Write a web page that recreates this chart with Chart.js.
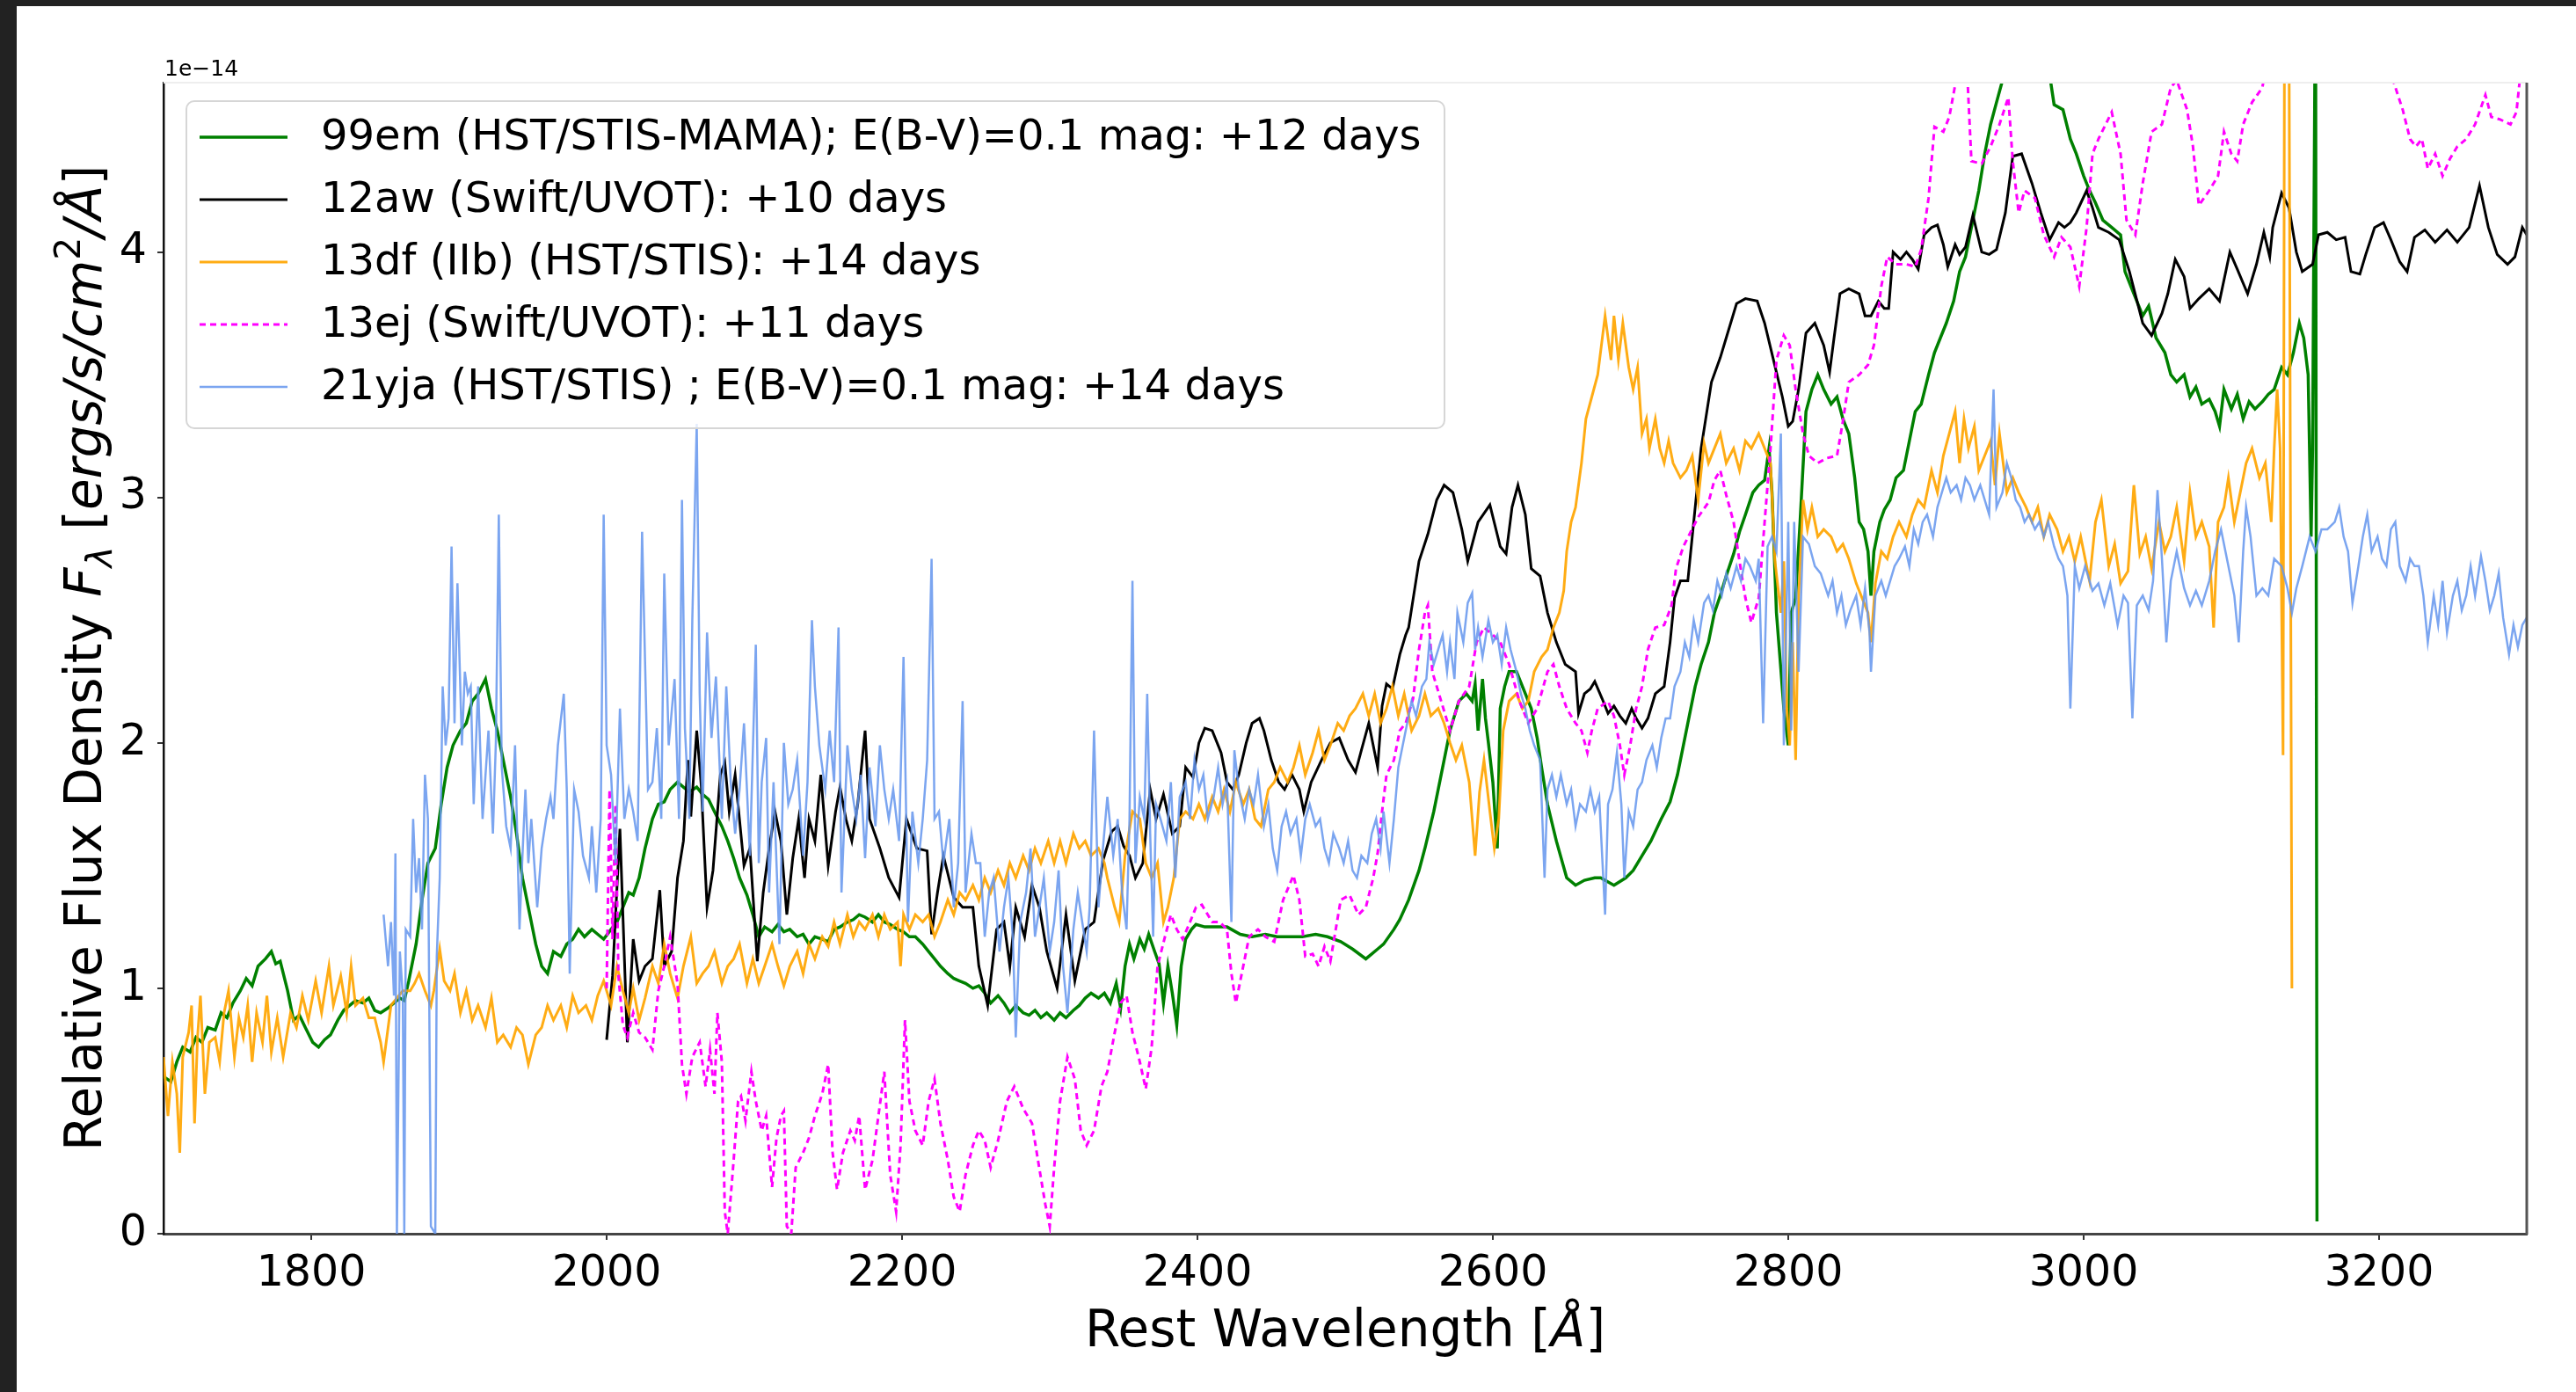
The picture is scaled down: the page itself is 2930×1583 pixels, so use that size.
<!DOCTYPE html>
<html>
<head>
<meta charset="utf-8">
<script src="https://cdn.jsdelivr.net/npm/chart.js@4.4.1/dist/chart.umd.min.js"></script>
<style>
  html, body { margin: 0; padding: 0; background: #222; overflow: hidden; }
  #wrap { position: absolute; left: 19px; top: 7px; width: 2911px; height: 1576px; background: #fff; }
  canvas { display: block; }
</style>
</head>
<body>
<div id="wrap"><canvas id="chart1" width="2911" height="1576"></canvas></div>
<script>
// [rest wavelength (A), flux (1e-14 ergs/s/cm2/A)]
const spec99em = [
  [1700,0.64],[1705,0.62],[1709,0.70],[1713,0.76],[1718,0.74],[1722,0.80],[1726,0.78],[1730,0.84],[1735,0.83],[1739,0.90],
  [1743,0.88],[1747,0.94],[1752,0.99],[1756,1.04],[1760,1.01],[1764,1.09],[1769,1.12],[1773,1.15],[1776,1.10],[1779,1.11],
  [1784,0.99],[1788,0.87],[1792,0.89],[1796,0.84],[1801,0.78],[1805,0.76],[1809,0.79],[1813,0.81],[1818,0.87],[1822,0.91],
  [1826,0.93],[1830,0.95],[1835,0.94],[1839,0.96],[1843,0.91],[1847,0.90],[1852,0.92],[1856,0.94],[1860,0.96],[1863,0.95],
  [1866,1.03],[1871,1.18],[1875,1.36],[1879,1.51],[1884,1.57],[1888,1.75],[1892,1.90],[1896,1.99],[1901,2.05],[1905,2.08],
  [1909,2.17],[1913,2.20],[1918,2.26],[1922,2.14],[1926,2.05],[1930,1.93],[1935,1.78],[1939,1.63],[1943,1.45],[1947,1.33],
  [1952,1.18],[1956,1.09],[1960,1.06],[1964,1.15],[1969,1.13],[1973,1.18],[1977,1.20],[1981,1.24],[1985,1.21],[1990,1.24],
  [1994,1.22],[1998,1.20],[2003,1.24],[2007,1.27],[2011,1.33],[2015,1.39],[2018,1.38],[2022,1.45],[2026,1.57],[2031,1.69],
  [2035,1.75],[2039,1.76],[2043,1.81],[2048,1.84],[2052,1.82],[2056,1.80],[2061,1.82],[2065,1.79],[2069,1.77],[2073,1.72],
  [2078,1.66],[2082,1.60],[2086,1.53],[2090,1.45],[2095,1.38],[2099,1.30],[2103,1.21],[2107,1.25],[2112,1.23],[2116,1.26],
  [2120,1.23],[2124,1.24],[2129,1.21],[2133,1.22],[2137,1.18],[2141,1.21],[2146,1.20],[2150,1.19],[2154,1.24],[2158,1.25],
  [2163,1.27],[2167,1.28],[2171,1.30],[2175,1.29],[2180,1.27],[2184,1.30],[2188,1.27],[2192,1.26],[2197,1.24],[2201,1.23],
  [2205,1.21],[2209,1.21],[2214,1.18],[2218,1.15],[2222,1.12],[2226,1.09],[2231,1.06],[2235,1.04],[2239,1.03],[2243,1.02],
  [2248,1.00],[2252,1.01],[2256,0.98],[2260,0.94],[2265,0.97],[2269,0.94],[2273,0.90],[2277,0.93],[2282,0.90],[2286,0.89],
  [2290,0.91],[2294,0.88],[2298,0.90],[2303,0.87],[2307,0.90],[2311,0.88],[2316,0.91],[2320,0.93],[2324,0.96],[2328,0.98],
  [2333,0.96],[2337,0.98],[2341,0.94],[2345,1.02],[2348,0.92],[2351,1.09],[2354,1.18],[2357,1.12],[2361,1.20],[2364,1.16],
  [2367,1.22],[2371,1.15],[2374,1.10],[2377,0.94],[2380,1.09],[2383,0.98],[2386,0.85],[2389,1.09],[2392,1.20],[2396,1.24],
  [2399,1.26],[2405,1.25],[2412,1.25],[2420,1.25],[2429,1.22],[2437,1.21],[2446,1.22],[2454,1.21],[2463,1.21],[2471,1.21],
  [2480,1.22],[2488,1.21],[2497,1.19],[2505,1.16],[2514,1.12],[2518,1.14],[2522,1.16],[2526,1.18],[2533,1.24],[2537,1.28],
  [2543,1.36],[2550,1.48],[2554,1.57],[2560,1.72],[2567,1.93],[2571,2.05],[2577,2.17],[2582,2.20],[2586,2.17],[2588,2.24],
  [2590,2.05],[2593,2.26],[2595,2.10],[2597,2.00],[2600,1.84],[2603,1.57],[2605,2.14],[2608,2.23],[2611,2.29],[2616,2.29],
  [2622,2.20],[2626,2.14],[2630,2.02],[2633,1.90],[2637,1.75],[2643,1.60],[2650,1.45],[2656,1.42],[2662,1.44],[2669,1.45],
  [2673,1.45],[2682,1.42],[2690,1.45],[2695,1.48],[2701,1.54],[2707,1.60],[2714,1.69],[2720,1.76],[2725,1.87],[2729,1.99],
  [2733,2.11],[2737,2.23],[2741,2.32],[2746,2.41],[2750,2.53],[2754,2.60],[2758,2.68],[2763,2.77],[2767,2.86],[2771,2.93],
  [2776,3.02],[2780,3.05],[2784,3.07],[2787,3.20],[2789,3.02],[2792,2.53],[2795,2.30],[2797,2.14],[2800,1.99],[2802,2.53],
  [2805,2.59],[2808,2.90],[2812,3.35],[2816,3.44],[2820,3.50],[2824,3.44],[2829,3.38],[2833,3.41],[2837,3.32],[2841,3.26],
  [2845,3.08],[2848,2.90],[2851,2.87],[2854,2.78],[2856,2.60],[2858,2.78],[2862,2.90],[2865,2.95],[2869,2.99],[2873,3.08],
  [2878,3.11],[2882,3.23],[2886,3.35],[2890,3.38],[2895,3.50],[2899,3.59],[2903,3.65],[2907,3.71],[2912,3.80],[2916,3.92],
  [2920,3.98],[2924,4.10],[2929,4.25],[2933,4.40],[2937,4.52],[2941,4.61],[2946,4.72],[2952,4.90],[2960,5.00],[2970,4.90],
  [2977,4.72],[2980,4.60],[2986,4.58],[2991,4.46],[2995,4.40],[3000,4.31],[3004,4.25],[3008,4.20],[3013,4.13],[3019,4.10],
  [3025,4.07],[3028,3.92],[3034,3.83],[3040,3.74],[3044,3.78],[3049,3.65],[3055,3.59],[3059,3.50],[3063,3.47],[3068,3.50],
  [3072,3.41],[3076,3.45],[3080,3.38],[3085,3.40],[3089,3.35],[3092,3.29],[3095,3.44],[3100,3.36],[3104,3.42],[3108,3.32],
  [3112,3.39],[3116,3.36],[3121,3.39],[3125,3.42],[3129,3.44],[3134,3.53],[3138,3.50],[3142,3.59],[3146,3.71],[3149,3.65],
  [3152,3.50],[3154,2.84],[3155,3.20],[3157,5.20],[3158,0.05]
];
const spec12aw = [
  [2000,0.79],[2004,1.05],[2009,1.65],[2014,0.78],[2018,1.20],[2022,1.03],[2026,1.09],[2031,1.12],[2036,1.40],[2039,1.09],
  [2044,1.15],[2048,1.45],[2052,1.60],[2055,1.93],[2057,1.70],[2061,2.05],[2064,1.83],[2068,1.33],[2072,1.48],[2077,1.87],
  [2080,1.92],[2083,1.72],[2087,1.87],[2093,1.50],[2097,1.57],[2102,1.11],[2106,1.39],[2110,1.57],[2114,1.72],[2118,1.60],
  [2122,1.30],[2126,1.53],[2130,1.69],[2134,1.45],[2137,1.69],[2141,1.60],[2145,1.87],[2150,1.50],[2155,1.72],[2158,1.82],
  [2162,1.69],[2166,1.60],[2170,1.75],[2175,2.05],[2178,1.69],[2185,1.57],[2191,1.45],[2198,1.37],[2203,1.69],[2210,1.57],
  [2217,1.56],[2220,1.22],[2224,1.39],[2228,1.54],[2235,1.37],[2241,1.33],[2248,1.33],[2252,1.09],[2258,0.93],[2264,1.24],
  [2269,1.27],[2273,1.09],[2277,1.33],[2283,1.21],[2288,1.42],[2293,1.33],[2298,1.15],[2305,1.00],[2311,1.30],[2317,1.03],
  [2324,1.24],[2330,1.27],[2336,1.52],[2342,1.64],[2346,1.66],[2350,1.58],[2354,1.54],[2358,1.45],[2363,1.51],[2368,1.81],
  [2372,1.69],[2377,1.79],[2383,1.63],[2388,1.66],[2392,1.90],[2397,1.86],[2401,2.00],[2405,2.06],[2410,2.05],[2416,1.96],
  [2420,1.84],[2424,1.81],[2428,1.87],[2433,2.00],[2437,2.08],[2442,2.10],[2445,2.05],[2450,1.93],[2455,1.84],[2459,1.81],
  [2464,1.87],[2469,1.81],[2472,1.72],[2477,1.84],[2484,1.93],[2490,2.00],[2496,2.02],[2502,1.93],[2507,1.88],[2511,1.97],
  [2516,2.08],[2520,1.96],[2522,1.90],[2525,2.15],[2528,2.24],[2532,2.22],[2537,2.36],[2541,2.44],[2543,2.47],[2550,2.74],
  [2556,2.85],[2562,2.99],[2567,3.05],[2573,3.02],[2579,2.87],[2583,2.74],[2590,2.90],[2598,2.97],[2605,2.80],[2609,2.77],
  [2613,2.96],[2617,3.05],[2622,2.93],[2626,2.71],[2632,2.68],[2637,2.53],[2643,2.41],[2649,2.32],[2656,2.29],[2658,2.12],
  [2662,2.20],[2666,2.22],[2669,2.25],[2674,2.18],[2678,2.12],[2682,2.15],[2686,2.11],[2690,2.08],[2694,2.14],[2697,2.10],
  [2701,2.06],[2705,2.10],[2710,2.20],[2716,2.23],[2720,2.41],[2723,2.59],[2727,2.66],[2732,2.66],[2735,2.84],[2741,3.20],
  [2748,3.47],[2754,3.57],[2758,3.65],[2765,3.79],[2771,3.81],[2779,3.80],[2784,3.71],[2790,3.56],[2796,3.41],[2800,3.29],
  [2803,3.31],[2807,3.44],[2812,3.67],[2818,3.71],[2824,3.62],[2828,3.51],[2831,3.65],[2835,3.83],[2841,3.85],[2848,3.83],
  [2852,3.74],[2856,3.74],[2861,3.80],[2865,3.77],[2868,3.77],[2871,4.00],[2876,3.97],[2880,4.00],[2884,3.97],[2888,3.93],
  [2892,4.07],[2897,4.10],[2901,4.11],[2905,4.03],[2908,3.94],[2913,4.03],[2916,3.99],[2920,4.02],[2925,4.15],[2931,4.00],
  [2936,3.99],[2941,4.01],[2947,4.16],[2952,4.39],[2958,4.40],[2965,4.28],[2971,4.16],[2977,4.05],[2983,4.12],[2987,4.10],
  [2991,4.12],[2995,4.16],[3002,4.25],[3006,4.18],[3010,4.10],[3017,4.08],[3024,4.05],[3031,3.92],[3040,3.71],[3046,3.66],
  [3053,3.75],[3057,3.83],[3062,3.97],[3068,3.90],[3072,3.77],[3078,3.81],[3085,3.85],[3092,3.80],[3099,4.00],[3104,3.93],
  [3111,3.83],[3117,3.95],[3122,4.08],[3126,3.98],[3128,4.10],[3134,4.24],[3139,4.18],[3144,4.00],[3148,3.92],[3155,3.95],
  [3159,4.07],[3165,4.08],[3171,4.05],[3177,4.06],[3181,3.92],[3187,3.91],[3191,3.99],[3197,4.10],[3203,4.12],[3208,4.05],
  [3214,3.96],[3219,3.92],[3224,4.06],[3231,4.09],[3238,4.04],[3246,4.09],[3253,4.04],[3261,4.10],[3268,4.27],[3274,4.10],
  [3280,3.99],[3287,3.95],[3292,3.98],[3297,4.10],[3300,4.07]
];
const spec13df = [
  [1700,0.72],[1703,0.48],[1706,0.70],[1709,0.57],[1711,0.33],[1713,0.72],[1717,0.82],[1719,0.93],[1721,0.45],[1723,0.80],
  [1725,0.97],[1728,0.57],[1731,0.78],[1735,0.80],[1738,0.70],[1741,0.90],[1744,0.99],[1748,0.72],[1751,0.88],[1754,0.80],
  [1757,0.93],[1760,0.70],[1763,0.90],[1767,0.78],[1770,0.97],[1773,0.74],[1777,0.88],[1781,0.72],[1786,0.90],[1790,0.84],
  [1794,0.97],[1798,0.87],[1803,1.03],[1807,0.90],[1812,1.09],[1815,0.93],[1820,1.05],[1824,0.90],[1827,1.09],[1830,0.93],
  [1835,0.96],[1839,0.88],[1843,0.88],[1847,0.78],[1849,0.70],[1854,0.93],[1858,0.96],[1862,0.99],[1867,0.99],[1870,1.02],
  [1873,1.06],[1877,0.99],[1881,0.93],[1883,0.99],[1887,1.16],[1890,1.03],[1894,0.99],[1897,1.06],[1901,0.90],[1905,0.99],
  [1909,0.87],[1913,0.93],[1918,0.84],[1922,0.96],[1926,0.78],[1930,0.81],[1935,0.76],[1939,0.84],[1943,0.81],[1947,0.69],
  [1952,0.81],[1956,0.84],[1960,0.93],[1964,0.87],[1969,0.93],[1973,0.84],[1977,0.97],[1981,0.90],[1986,0.93],[1990,0.87],
  [1994,0.97],[1998,1.03],[2003,0.93],[2007,1.09],[2011,0.99],[2015,0.90],[2018,1.00],[2022,0.87],[2026,0.96],[2031,1.09],
  [2035,1.02],[2039,1.18],[2043,1.06],[2048,0.96],[2052,1.09],[2057,1.21],[2061,1.02],[2065,1.06],[2069,1.09],[2073,1.15],
  [2078,1.02],[2082,1.09],[2086,1.12],[2090,1.18],[2095,1.02],[2099,1.12],[2103,1.02],[2107,1.09],[2112,1.18],[2116,1.09],
  [2120,1.01],[2124,1.09],[2129,1.15],[2133,1.06],[2137,1.18],[2141,1.12],[2146,1.21],[2150,1.17],[2154,1.27],[2158,1.18],
  [2163,1.30],[2167,1.21],[2171,1.27],[2175,1.24],[2180,1.30],[2184,1.21],[2188,1.30],[2192,1.24],[2197,1.27],[2199,1.09],
  [2201,1.30],[2205,1.24],[2209,1.30],[2214,1.27],[2218,1.30],[2222,1.21],[2226,1.27],[2231,1.36],[2235,1.30],[2239,1.39],
  [2243,1.36],[2248,1.42],[2252,1.36],[2256,1.45],[2260,1.39],[2265,1.48],[2269,1.42],[2273,1.51],[2277,1.45],[2282,1.54],
  [2286,1.48],[2290,1.57],[2294,1.51],[2299,1.60],[2303,1.51],[2307,1.60],[2311,1.51],[2316,1.63],[2320,1.57],[2324,1.60],
  [2328,1.54],[2333,1.57],[2337,1.51],[2339,1.45],[2344,1.33],[2347,1.27],[2351,1.54],[2356,1.72],[2361,1.69],[2365,1.51],
  [2369,1.45],[2373,1.51],[2377,1.27],[2380,1.33],[2384,1.45],[2388,1.69],[2392,1.72],[2397,1.69],[2401,1.75],[2405,1.69],
  [2410,1.78],[2414,1.72],[2418,1.81],[2422,1.72],[2426,1.84],[2431,1.75],[2435,1.81],[2439,1.69],[2443,1.66],[2448,1.81],
  [2452,1.84],[2456,1.90],[2461,1.84],[2465,1.90],[2469,1.99],[2473,1.87],[2478,1.96],[2482,2.05],[2486,1.93],[2490,1.99],
  [2495,2.08],[2499,2.05],[2503,2.11],[2507,2.14],[2512,2.20],[2516,2.11],[2520,2.20],[2524,2.08],[2528,2.14],[2532,2.23],
  [2536,2.11],[2540,2.20],[2545,2.05],[2550,2.11],[2554,2.20],[2558,2.11],[2563,2.14],[2567,2.08],[2571,2.00],[2575,1.93],
  [2579,1.99],[2584,1.84],[2588,1.54],[2591,1.80],[2594,1.93],[2598,1.72],[2601,1.57],[2604,1.69],[2607,2.05],[2611,2.17],
  [2616,2.20],[2620,2.14],[2624,2.17],[2628,2.29],[2633,2.35],[2637,2.38],[2641,2.47],[2645,2.53],[2648,2.62],[2650,2.78],
  [2653,2.90],[2656,2.96],[2660,3.14],[2663,3.32],[2667,3.41],[2671,3.50],[2676,3.74],[2680,3.56],[2682,3.74],[2685,3.56],
  [2688,3.71],[2692,3.53],[2695,3.44],[2698,3.53],[2701,3.26],[2704,3.32],[2706,3.20],[2710,3.32],[2713,3.20],[2716,3.14],
  [2719,3.23],[2722,3.14],[2727,3.08],[2731,3.11],[2735,3.17],[2739,2.99],[2743,3.22],[2746,3.14],[2750,3.20],[2754,3.26],
  [2758,3.14],[2763,3.20],[2767,3.11],[2771,3.23],[2775,3.20],[2780,3.26],[2784,3.20],[2788,3.14],[2791,2.74],[2795,2.53],
  [2797,2.74],[2799,2.14],[2801,1.99],[2803,2.41],[2805,1.93],[2807,2.59],[2810,2.99],[2813,2.87],[2816,2.96],[2820,2.84],
  [2824,2.87],[2829,2.84],[2833,2.78],[2837,2.81],[2841,2.75],[2846,2.65],[2850,2.59],[2854,2.53],[2856,2.41],[2859,2.65],
  [2863,2.78],[2867,2.75],[2871,2.84],[2875,2.90],[2880,2.84],[2884,2.93],[2888,2.99],[2892,2.96],[2897,3.11],[2901,3.02],
  [2905,3.17],[2909,3.26],[2913,3.35],[2916,3.14],[2919,3.32],[2922,3.20],[2926,3.29],[2929,3.11],[2933,3.17],[2937,3.23],
  [2940,3.05],[2943,3.26],[2948,3.02],[2952,3.08],[2956,3.02],[2961,2.96],[2965,2.90],[2969,2.96],[2973,2.84],[2977,2.93],
  [2982,2.87],[2986,2.78],[2990,2.84],[2994,2.74],[2998,2.84],[3000,2.78],[3004,2.66],[3008,2.90],[3012,2.99],[3017,2.72],
  [3021,2.81],[3025,2.65],[3030,2.70],[3034,3.05],[3038,2.77],[3042,2.84],[3046,2.71],[3051,2.90],[3055,2.78],[3059,2.84],
  [3063,2.96],[3068,2.74],[3072,3.02],[3076,2.84],[3080,2.90],[3085,2.80],[3088,2.47],[3091,2.90],[3095,2.96],[3098,3.08],
  [3102,2.90],[3106,3.02],[3110,3.14],[3114,3.20],[3119,3.08],[3123,3.14],[3125,3.02],[3127,2.90],[3129,3.20],[3131,3.44],
  [3133,3.20],[3135,1.95],[3136,5.00],[3139,5.00],[3141,1.00]
];
const spec13ej = [
  [2000,1.00],[2002,1.81],[2004,1.20],[2006,1.75],[2008,1.05],[2011,0.85],[2014,0.80],[2018,0.90],[2022,0.82],[2026,0.80],
  [2031,0.75],[2035,0.99],[2039,1.09],[2043,1.21],[2048,1.02],[2051,0.69],[2054,0.57],[2058,0.72],[2063,0.78],[2067,0.60],
  [2070,0.75],[2073,0.57],[2075,0.90],[2078,0.70],[2080,0.09],[2082,0.00],[2086,0.30],[2089,0.54],[2091,0.56],[2094,0.46],
  [2098,0.66],[2101,0.54],[2105,0.42],[2108,0.48],[2112,0.19],[2115,0.39],[2118,0.48],[2120,0.50],[2122,0.03],[2125,0.00],
  [2128,0.27],[2133,0.33],[2137,0.39],[2141,0.48],[2146,0.57],[2150,0.69],[2153,0.33],[2156,0.18],[2160,0.33],[2165,0.42],
  [2168,0.38],[2171,0.48],[2175,0.18],[2180,0.30],[2184,0.48],[2188,0.66],[2192,0.24],[2196,0.09],[2199,0.36],[2202,0.87],
  [2205,0.54],[2209,0.42],[2214,0.36],[2218,0.54],[2222,0.63],[2226,0.45],[2231,0.30],[2235,0.15],[2239,0.09],[2243,0.24],
  [2248,0.36],[2252,0.42],[2256,0.38],[2260,0.27],[2265,0.38],[2271,0.54],[2276,0.60],[2282,0.51],[2288,0.45],[2292,0.30],
  [2297,0.12],[2300,0.03],[2303,0.27],[2307,0.54],[2312,0.72],[2317,0.63],[2321,0.42],[2325,0.36],[2330,0.42],[2335,0.60],
  [2339,0.66],[2344,0.82],[2348,0.94],[2352,0.97],[2356,0.82],[2361,0.70],[2365,0.59],[2369,0.76],[2373,1.09],[2378,1.21],
  [2382,1.30],[2386,1.24],[2390,1.20],[2395,1.27],[2399,1.33],[2403,1.34],[2410,1.27],[2415,1.27],[2420,1.24],[2423,1.06],
  [2426,0.94],[2431,1.09],[2435,1.21],[2441,1.24],[2446,1.21],[2452,1.19],[2458,1.36],[2465,1.46],[2469,1.36],[2473,1.13],
  [2478,1.14],[2482,1.09],[2486,1.17],[2490,1.11],[2497,1.36],[2503,1.38],[2509,1.30],[2514,1.33],[2519,1.45],[2522,1.55],
  [2525,1.72],[2528,1.87],[2533,1.93],[2537,2.05],[2541,2.08],[2546,2.18],[2550,2.38],[2554,2.53],[2556,2.56],[2559,2.29],
  [2565,2.17],[2571,2.05],[2577,2.17],[2584,2.23],[2589,2.41],[2594,2.47],[2600,2.44],[2605,2.41],[2611,2.32],[2618,2.17],
  [2624,2.08],[2630,2.14],[2637,2.29],[2641,2.32],[2645,2.23],[2650,2.14],[2656,2.08],[2660,2.05],[2664,1.96],[2667,2.05],
  [2671,2.14],[2678,2.17],[2682,2.11],[2686,1.99],[2689,1.87],[2693,1.99],[2697,2.14],[2701,2.23],[2705,2.38],[2710,2.47],
  [2716,2.48],[2721,2.56],[2724,2.71],[2729,2.80],[2734,2.86],[2739,2.92],[2746,2.98],[2750,3.07],[2754,3.11],[2758,3.01],
  [2763,2.90],[2767,2.74],[2771,2.59],[2775,2.49],[2780,2.59],[2784,2.90],[2788,3.20],[2792,3.56],[2797,3.66],[2801,3.62],
  [2805,3.44],[2810,3.26],[2814,3.17],[2820,3.14],[2826,3.16],[2833,3.17],[2837,3.31],[2841,3.47],[2848,3.50],[2854,3.54],
  [2858,3.62],[2863,3.86],[2867,3.98],[2873,3.95],[2880,3.95],[2886,3.94],[2890,4.01],[2895,4.22],[2899,4.51],[2905,4.49],
  [2909,4.55],[2913,4.68],[2917,4.85],[2921,4.75],[2924,4.37],[2931,4.36],[2937,4.43],[2943,4.52],[2949,4.63],[2952,4.37],
  [2956,4.16],[2960,4.25],[2967,4.22],[2973,4.07],[2980,3.98],[2985,4.06],[2991,4.02],[2997,3.86],[3002,4.10],[3006,4.40],
  [3010,4.46],[3019,4.57],[3025,4.40],[3029,4.13],[3035,4.07],[3040,4.28],[3046,4.49],[3053,4.52],[3059,4.67],[3063,4.70],
  [3070,4.58],[3074,4.43],[3078,4.19],[3085,4.25],[3091,4.31],[3095,4.49],[3100,4.40],[3104,4.37],[3108,4.52],[3114,4.61],
  [3121,4.67],[3126,4.85],[3135,5.00],[3150,4.95],[3165,5.05],[3180,4.95],[3195,5.00],[3205,4.80],[3210,4.69],[3216,4.58],
  [3221,4.46],[3225,4.43],[3229,4.46],[3233,4.34],[3238,4.40],[3243,4.31],[3248,4.38],[3253,4.43],[3259,4.46],[3265,4.52],
  [3272,4.64],[3276,4.55],[3282,4.54],[3289,4.52],[3293,4.57],[3297,4.80],[3300,4.90]
];
const spec21yja = [
  [1849,1.30],[1852,1.09],[1854,1.27],[1856,0.97],[1857,1.55],[1858,0.00],[1860,1.15],[1862,0.97],[1863,0.00],[1864,1.24],
  [1867,1.21],[1869,1.69],[1871,1.39],[1873,1.53],[1875,1.24],[1877,1.87],[1879,1.69],[1881,0.03],[1884,0.00],[1885,1.13],
  [1887,1.45],[1889,2.23],[1891,1.99],[1893,2.10],[1895,2.80],[1897,2.08],[1899,2.65],[1902,1.99],[1904,2.29],[1906,2.20],
  [1908,2.23],[1910,1.75],[1913,2.23],[1916,1.69],[1920,2.05],[1923,1.63],[1925,2.00],[1927,2.93],[1929,1.90],[1932,1.66],
  [1935,1.57],[1938,1.99],[1941,1.24],[1943,1.54],[1945,1.81],[1947,1.51],[1949,1.69],[1953,1.33],[1956,1.57],[1959,1.69],
  [1962,1.78],[1964,1.69],[1967,1.99],[1971,2.20],[1973,1.81],[1975,1.06],[1978,1.81],[1981,1.72],[1984,1.54],[1988,1.45],
  [1990,1.66],[1993,1.39],[1996,1.69],[1998,2.93],[2000,1.99],[2003,1.87],[2006,1.51],[2009,2.14],[2012,1.69],[2015,1.81],
  [2018,1.72],[2021,1.60],[2024,2.86],[2028,1.81],[2031,1.84],[2034,2.06],[2037,1.69],[2039,2.69],[2042,1.99],[2046,2.26],
  [2049,1.69],[2051,2.99],[2053,2.06],[2056,1.69],[2058,2.50],[2061,3.30],[2063,2.20],[2065,1.72],[2068,2.45],[2071,2.02],
  [2074,2.27],[2078,1.69],[2081,2.23],[2084,1.84],[2087,1.63],[2090,1.81],[2093,2.08],[2097,1.54],[2101,2.40],[2103,1.51],
  [2105,1.84],[2108,2.02],[2110,1.39],[2113,1.84],[2117,1.18],[2120,2.00],[2123,1.75],[2126,1.81],[2129,1.93],[2133,1.54],
  [2136,1.84],[2139,2.50],[2141,2.23],[2144,1.99],[2148,1.81],[2151,2.05],[2154,1.84],[2157,2.47],[2159,1.39],[2163,1.99],
  [2166,1.81],[2169,1.69],[2172,1.87],[2175,1.53],[2178,1.90],[2182,1.66],[2185,1.99],[2188,1.81],[2191,1.69],[2194,1.81],
  [2198,1.60],[2201,2.35],[2204,1.27],[2207,1.72],[2211,1.51],[2214,1.69],[2217,1.93],[2220,2.75],[2222,1.69],[2225,1.72],
  [2228,1.51],[2232,1.69],[2235,1.33],[2238,1.51],[2241,2.17],[2243,1.39],[2247,1.63],[2250,1.51],[2253,1.51],[2256,1.21],
  [2259,1.39],[2262,1.45],[2266,1.15],[2269,1.33],[2272,1.45],[2275,1.21],[2277,0.80],[2280,1.27],[2284,1.39],[2287,1.57],
  [2290,1.21],[2293,1.33],[2296,1.45],[2300,1.15],[2303,1.27],[2306,1.48],[2309,1.09],[2312,0.90],[2316,1.24],[2319,1.39],
  [2322,1.27],[2325,1.15],[2327,1.33],[2330,2.05],[2333,1.33],[2336,1.57],[2339,1.78],[2343,1.54],[2346,1.69],[2349,1.39],
  [2352,1.24],[2354,1.69],[2356,2.66],[2358,1.51],[2361,1.78],[2364,1.69],[2366,2.20],[2368,1.63],[2370,1.21],[2372,1.75],
  [2375,1.69],[2379,1.60],[2382,1.84],[2385,1.45],[2388,1.78],[2392,1.84],[2395,1.69],[2398,1.93],[2401,1.81],[2404,1.87],
  [2407,1.69],[2411,1.78],[2414,1.90],[2417,1.75],[2420,1.84],[2423,1.27],[2425,1.97],[2428,1.81],[2432,1.69],[2435,1.81],
  [2438,1.75],[2441,1.87],[2445,1.66],[2448,1.75],[2451,1.57],[2454,1.48],[2457,1.66],[2460,1.72],[2463,1.63],[2467,1.69],
  [2470,1.54],[2473,1.69],[2476,1.75],[2480,1.66],[2483,1.69],[2486,1.57],[2489,1.51],[2492,1.63],[2496,1.57],[2499,1.51],
  [2502,1.60],[2505,1.48],[2508,1.45],[2511,1.54],[2515,1.51],[2518,1.63],[2521,1.69],[2524,1.57],[2526,1.72],[2530,1.51],
  [2533,1.69],[2536,1.90],[2539,1.99],[2542,2.08],[2545,2.17],[2548,2.11],[2552,2.23],[2555,2.26],[2557,2.41],[2560,2.32],
  [2563,2.38],[2566,2.44],[2569,2.29],[2571,2.41],[2574,2.26],[2576,2.53],[2580,2.41],[2583,2.57],[2586,2.61],[2588,2.38],
  [2590,2.47],[2593,2.35],[2597,2.50],[2600,2.41],[2603,2.44],[2606,2.32],[2609,2.47],[2612,2.38],[2616,2.29],[2619,2.20],
  [2622,2.14],[2625,2.05],[2628,1.99],[2632,1.93],[2635,1.45],[2637,1.81],[2640,1.87],[2643,1.78],[2646,1.87],[2650,1.75],
  [2653,1.81],[2656,1.66],[2659,1.75],[2663,1.72],[2666,1.81],[2669,1.72],[2672,1.78],[2676,1.30],[2678,1.75],[2681,1.81],
  [2684,1.96],[2687,1.75],[2689,1.45],[2692,1.72],[2695,1.66],[2698,1.81],[2701,1.84],[2704,1.93],[2708,1.99],[2711,1.90],
  [2714,2.02],[2717,2.10],[2720,2.10],[2723,2.23],[2727,2.29],[2730,2.41],[2733,2.35],[2736,2.50],[2739,2.41],[2743,2.57],
  [2746,2.60],[2749,2.54],[2752,2.66],[2755,2.60],[2758,2.69],[2761,2.63],[2765,2.72],[2768,2.66],[2771,2.75],[2774,2.72],
  [2778,2.66],[2780,2.75],[2783,2.08],[2786,2.80],[2789,2.84],[2792,2.78],[2795,3.26],[2797,1.99],[2800,2.90],[2802,2.05],
  [2804,2.90],[2807,2.29],[2810,2.84],[2814,2.81],[2818,2.72],[2822,2.69],[2827,2.60],[2830,2.66],[2833,2.53],[2836,2.60],
  [2839,2.48],[2842,2.54],[2846,2.60],[2849,2.48],[2852,2.63],[2855,2.45],[2856,2.29],[2859,2.60],[2863,2.66],[2866,2.60],
  [2869,2.66],[2872,2.72],[2875,2.75],[2879,2.80],[2882,2.72],[2885,2.87],[2888,2.81],[2891,2.90],[2894,2.93],[2898,2.84],
  [2901,2.96],[2904,3.02],[2907,3.08],[2910,3.02],[2914,3.05],[2917,2.99],[2920,3.08],[2923,3.05],[2926,2.99],[2930,3.05],
  [2933,2.99],[2936,2.93],[2939,3.44],[2941,2.96],[2945,3.02],[2948,3.14],[2951,3.08],[2954,2.99],[2957,2.96],[2960,2.90],
  [2963,2.93],[2967,2.87],[2970,2.90],[2973,2.84],[2976,2.90],[2980,2.80],[2983,2.75],[2986,2.72],[2989,2.60],[2991,2.14],
  [2994,2.72],[2997,2.63],[3001,2.72],[3006,2.62],[3010,2.65],[3014,2.56],[3018,2.65],[3023,2.48],[3027,2.60],[3030,2.57],
  [3033,2.10],[3036,2.56],[3040,2.60],[3044,2.54],[3047,2.66],[3050,3.03],[3053,2.75],[3056,2.41],[3059,2.66],[3063,2.78],
  [3068,2.63],[3072,2.56],[3076,2.62],[3080,2.56],[3085,2.66],[3089,2.78],[3093,2.87],[3097,2.75],[3102,2.60],[3105,2.41],
  [3108,2.78],[3110,2.96],[3113,2.84],[3117,2.60],[3121,2.63],[3125,2.60],[3129,2.75],[3134,2.72],[3138,2.63],[3141,2.53],
  [3144,2.63],[3148,2.72],[3153,2.84],[3157,2.78],[3161,2.87],[3165,2.87],[3170,2.90],[3173,2.96],[3176,2.84],[3179,2.78],
  [3182,2.57],[3186,2.72],[3189,2.84],[3192,2.93],[3195,2.78],[3199,2.84],[3202,2.75],[3205,2.72],[3208,2.87],[3211,2.90],
  [3214,2.72],[3218,2.66],[3221,2.75],[3224,2.72],[3227,2.72],[3230,2.60],[3233,2.41],[3237,2.60],[3240,2.48],[3243,2.66],
  [3246,2.45],[3250,2.60],[3253,2.66],[3256,2.54],[3259,2.60],[3262,2.72],[3265,2.60],[3269,2.76],[3272,2.66],[3275,2.54],
  [3278,2.60],[3281,2.69],[3284,2.51],[3288,2.36],[3291,2.48],[3294,2.39],[3297,2.48],[3300,2.51]
];

const seriesLabels = [
  '99em (HST/STIS-MAMA); E(B-V)=0.1 mag: +12 days',
  '12aw (Swift/UVOT): +10 days',
  '13df (IIb) (HST/STIS): +14 days',
  '13ej (Swift/UVOT): +11 days',
  '21yja (HST/STIS) ; E(B-V)=0.1 mag: +14 days'
];
const xTicks = [1800, 2000, 2200, 2400, 2600, 2800, 3000, 3200];
const yTicks = [0, 1, 2, 3, 4];
const xRange = [1700, 3300];
const yRange = [0, 4.69];

const FONT = 'DejaVu Sans';
const TITLE_SIZE = 58;
const toXY = arr => arr.map(p => ({x: p[0], y: p[1]}));

function line(label, data, color, width, order, dash) {
  return {
    label: label, data: toXY(data), borderColor: color, backgroundColor: color,
    borderWidth: width, borderDash: dash || [], pointRadius: 0, tension: 0,
    fill: false, order: order, clip: 0
  };
}

// draws mixed upright / italic pieces one after another, returns nothing
function drawParts(ctx, parts, size, x0, base) {
  const fontOf = p => p[1] + (p[2] ? Math.round(size * 0.7) : size) + 'px "' + FONT + '"';
  let total = 0;
  parts.forEach(p => { ctx.font = fontOf(p); total += ctx.measureText(p[0]).width; });
  let x = x0 === null ? -total / 2 : x0;
  parts.forEach(p => {
    ctx.font = fontOf(p);
    const dy = p[2] === 1 ? base + 12 : (p[2] === 2 ? base - 24 : base);
    ctx.fillText(p[0], x, dy);
    x += ctx.measureText(p[0]).width;
  });
}

// spines, 1e-14 offset text, axis titles with math parts
const framePlugin = {
  id: 'frame',
  afterDatasetsDraw(chart) {
    const {ctx, chartArea: a} = chart;
    ctx.save();
    ctx.strokeStyle = '#eeeeee';
    ctx.lineWidth = 2;
    ctx.beginPath(); ctx.moveTo(a.left, a.top); ctx.lineTo(a.right, a.top); ctx.stroke();
    ctx.strokeStyle = '#555';
    ctx.lineWidth = 3;
    ctx.beginPath(); ctx.moveTo(a.right, a.top); ctx.lineTo(a.right, a.bottom + 1); ctx.stroke();

    ctx.fillStyle = '#000';
    ctx.font = '25px "' + FONT + '"';
    ctx.textBaseline = 'middle';
    ctx.textAlign = 'left';
    ctx.fillText('1e\u221214', a.left + 1, 72);

    ctx.textBaseline = 'alphabetic';
    // x axis title
    ctx.save();
    ctx.translate((a.left + a.right) / 2, 1524);
    drawParts(ctx, [['Rest Wavelength [', '', 0], ['\u00c5', 'italic ', 0], [']', '', 0]], TITLE_SIZE, null, 0);
    ctx.restore();

    // y axis title
    ctx.translate(74, (a.top + a.bottom) / 2);
    ctx.rotate(-Math.PI / 2);
    drawParts(ctx, [
      ['Relative Flux Density ', '', 0], ['F', 'italic ', 0], ['\u03bb', 'italic ', 1],
      [' [', '', 0], ['ergs/s/cm', 'italic ', 0], ['2', '', 2], ['/\u00c5', 'italic ', 0], [']', '', 0]
    ], TITLE_SIZE, null, 22);
    ctx.restore();
  }
};

// legend box drawn inside the axes, upper left
const boxLegend = {
  id: 'boxLegend',
  afterDatasetsDraw(chart) {
    const ctx = chart.ctx;
    const box = {x: 193, y: 108, w: 1431, h: 372};
    ctx.save();
    ctx.beginPath();
    ctx.roundRect(box.x, box.y, box.w, box.h, 9);
    ctx.fillStyle = 'rgba(255,255,255,0.8)';
    ctx.fill();
    ctx.strokeStyle = '#d6d6d6';
    ctx.lineWidth = 2;
    ctx.stroke();
    const ds = chart.data.datasets;
    ctx.font = '48px "' + FONT + '"';
    ctx.textBaseline = 'middle';
    ctx.fillStyle = '#000';
    seriesLabels.forEach((txt, i) => {
      const y = 149 + i * 71;
      ctx.beginPath();
      ctx.setLineDash(ds[i].borderDash);
      ctx.strokeStyle = ds[i].borderColor;
      ctx.lineWidth = ds[i].borderWidth;
      ctx.moveTo(208, y); ctx.lineTo(308, y);
      ctx.stroke();
      ctx.setLineDash([]);
      ctx.fillText(txt, 346, y + 2);
    });
    ctx.restore();
  }
};

new Chart(document.getElementById('chart1'), {
  type: 'line',
  data: {
    datasets: [
      line(seriesLabels[0], spec99em, '#008000', 3.5, 5),
      line(seriesLabels[1], spec12aw, '#000000', 3, 4),
      line(seriesLabels[2], spec13df, 'rgba(255,165,0,0.92)', 3, 3),
      line(seriesLabels[3], spec13ej, '#ff00ff', 3, 2, [7, 5]),
      line(seriesLabels[4], spec21yja, 'rgba(100,149,237,0.85)', 2.5, 1)
    ]
  },
  options: {
    responsive: false,
    maintainAspectRatio: false,
    animation: false,
    layout: { padding: { left: 0, top: 87, right: 56, bottom: 0 } },
    plugins: { legend: { display: false }, tooltip: { enabled: false } },
    scales: {
      x: {
        type: 'linear', min: xRange[0], max: xRange[1],
        afterFit: s => { s.height = 180; },
        afterBuildTicks: s => { s.ticks = xTicks.map(v => ({value: v})); },
        ticks: { font: { family: FONT, size: 49 }, color: '#000', padding: 10, maxRotation: 0, autoSkip: false,
                 callback: v => String(v) },
        grid: { drawOnChartArea: false, drawTicks: true, tickLength: 7, color: '#333', lineWidth: 2 },
        border: { display: true, color: '#444', width: 3 },
        title: { display: false }
      },
      y: {
        type: 'linear', min: yRange[0], max: yRange[1],
        afterFit: s => { s.width = 167; },
        afterBuildTicks: s => { s.ticks = yTicks.map(v => ({value: v})); },
        ticks: { font: { family: FONT, size: 49 }, color: '#000', padding: 12, callback: v => String(v) },
        grid: { drawOnChartArea: false, drawTicks: true, tickLength: 7, color: '#333', lineWidth: 2 },
        border: { display: true, color: '#111', width: 2.5 }
      }
    }
  },
  plugins: [framePlugin, boxLegend]
});
</script>
</body>
</html>
